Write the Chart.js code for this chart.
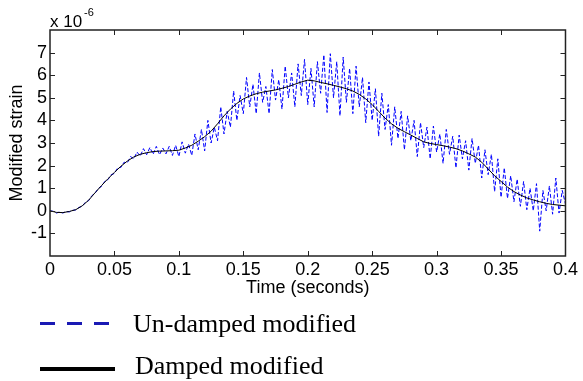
<!DOCTYPE html>
<html>
<head>
<meta charset="utf-8">
<script src="https://cdn.jsdelivr.net/npm/chart.js@4.4.1/dist/chart.umd.min.js"></script>
<style>
html, body { margin: 0; padding: 0; background: #fff; }
#wrap { position: relative; width: 583px; height: 381px; }
.lbl { position: absolute; font-family: "Liberation Sans", Arial, sans-serif; color: #000; line-height: 1; white-space: nowrap; }
.leg { position: absolute; font-family: "Liberation Serif", "Times New Roman", serif; font-size: 26px; line-height: 1; color: #000; white-space: nowrap; }
</style>
</head>
<body>
<div id="wrap">
    <canvas id="strainChart" width="583" height="381"></canvas>
    <span class="lbl" style="left:50px;top:13px;font-size:17px">x 10</span>
    <span class="lbl" style="left:84px;top:7px;font-size:11px">-6</span>
    <div style="position:absolute;left:40px;top:322px;width:69px;height:3px;background:repeating-linear-gradient(to right,#1a1ab4 0 15px,transparent 15px 27px)"></div>
    <span class="leg" style="left:133px;top:311px">Un-damped modified</span>
    <div style="position:absolute;left:40px;top:367px;width:75px;height:4px;background:#000"></div>
    <span class="leg" style="left:135px;top:353px">Damped modified</span>
</div>
<script>
// sampling of the two signals (seconds)
const dampedStep = 0.005;
const undampedStep = 0.0025;

// strain x 1e-6, damped modified (every 5 ms)
const dampedStrain = [
    0, -0.07, -0.08, -0.03, 0.05, 0.22, 0.47, 0.8, 1.12, 1.42,
    1.7, 1.97, 2.2, 2.38, 2.5, 2.57, 2.62, 2.64, 2.65, 2.66,
    2.68, 2.78, 2.9, 3.08, 3.28, 3.52, 3.85, 4.2, 4.5, 4.75,
    4.95, 5.08, 5.18, 5.25, 5.3, 5.35, 5.42, 5.5, 5.6, 5.7,
    5.78, 5.75, 5.68, 5.62, 5.55, 5.48, 5.4, 5.3, 5.15, 4.95,
    4.7, 4.4, 4.1, 3.85, 3.65, 3.5, 3.35, 3.2, 3.05, 2.98,
    2.93, 2.88, 2.82, 2.75, 2.65, 2.52, 2.38, 2.15, 1.85, 1.55,
    1.3, 1.05, 0.85, 0.7, 0.57, 0.48, 0.4, 0.33, 0.28, 0.25,
    0.22
];

// strain x 1e-6, un-damped modified (every 2.5 ms)
const undampedStrain = [
    0, -0.02, -0.1, -0.05, -0.1, -0.03, -0.05, 0.02, 0.04, 0.15,
    0.2, 0.38, 0.45, 0.67, 0.78, 0.99, 1.08, 1.3, 1.38, 1.6,
    1.65, 1.9, 1.92, 2.15, 2.12, 2.4, 2.3, 2.6, 2.42, 2.75,
    2.48, 2.8, 2.5, 2.85, 2.48, 2.78, 2.52, 2.85, 2.45, 2.9,
    2.4, 3.05, 2.55, 2.95, 2.45, 3.4, 2.7, 3.6, 2.65, 4.0,
    3.0, 3.7, 3.1, 4.6, 3.4, 4.4, 3.7, 5.3, 4.0, 5.1,
    4.3, 5.9, 4.6, 5.6, 4.3, 6.1, 4.8, 5.5, 4.3, 6.25,
    4.9, 5.8, 4.5, 6.4, 5.0, 6.1, 4.6, 6.5, 5.1, 6.7,
    4.7, 6.3, 4.6, 6.6, 5.2, 6.9, 4.35, 6.95, 5.0, 6.6,
    4.2, 6.8, 4.8, 6.3, 4.3, 6.4, 4.6, 5.9, 3.9, 5.7,
    4.0, 5.4, 3.3, 5.2, 3.6, 4.7, 2.9, 4.6, 3.2, 4.4,
    2.7, 4.2, 3.1, 4.0, 2.4, 3.9, 2.8, 3.7, 2.3, 3.75,
    2.6, 3.4, 2.1, 3.6, 2.5, 3.3, 1.9, 3.35, 2.3, 3.1,
    1.8, 3.2, 2.1, 2.9, 1.45, 2.7, 1.6, 2.5, 0.85, 2.3,
    0.6, 1.9, 0.55, 1.55, 0.4, 1.4, 0.2, 1.3, 0.05, 1.0,
    0.0, 1.2, -0.9, 0.9, 0.0, 1.1, -0.15, 1.45, -0.1, 0.9,
    0.3
];

const xTicks = [0, 0.05, 0.1, 0.15, 0.2, 0.25, 0.3, 0.35, 0.4];
const yTickLabels = [-1, 0, 1, 2, 3, 4, 5, 6, 7];

const toPoints = (vals, step) => vals.map((v, i) => ({ x: +(i * step).toFixed(4), y: v }));

// MATLAB style box with inward ticks on all four sides
const matlabBox = {
    id: 'matlabBox',
    afterDatasetsDraw(chart) {
        const { ctx, chartArea: a, scales: { x, y } } = chart;
        ctx.save();
        ctx.strokeStyle = '#222';
        ctx.lineWidth = 1;
        ctx.beginPath();
        xTicks.slice(1, -1).forEach(v => {
            const px = Math.round(x.getPixelForValue(v)) + 0.5;
            ctx.moveTo(px, a.bottom); ctx.lineTo(px, a.bottom - 5);
            ctx.moveTo(px, a.top); ctx.lineTo(px, a.top + 5);
        });
        yTickLabels.forEach(v => {
            const py = Math.round(y.getPixelForValue(v)) + 0.5;
            ctx.moveTo(a.left, py); ctx.lineTo(a.left + 5, py);
            ctx.moveTo(a.right, py); ctx.lineTo(a.right - 5, py);
        });
        ctx.stroke();
        ctx.lineWidth = 1.5;
        ctx.strokeRect(a.left, a.top, a.right - a.left, a.bottom - a.top);
        ctx.restore();
    }
};

const ctx = document.getElementById('strainChart').getContext('2d');
new Chart(ctx, {
    type: 'line',
    data: {
        datasets: [
            {
                label: 'Damped modified',
                data: toPoints(dampedStrain, dampedStep),
                borderColor: '#000',
                borderWidth: 1,
                pointRadius: 0,
                order: 0
            },
            {
                label: 'Un-damped modified',
                data: toPoints(undampedStrain, undampedStep),
                borderColor: '#0000ff',
                borderWidth: 1,
                borderDash: [4, 2],
                pointRadius: 0,
                order: 1
            }
        ]
    },
    options: {
        responsive: false,
        animation: false,
        layout: { padding: { top: 30, right: 13, bottom: 80, left: 0 } },
        plugins: { legend: { display: false }, tooltip: { enabled: false } },
        scales: {
            x: {
                type: 'linear',
                min: 0,
                max: 0.4,
                afterFit: s => { s.height = 45; },
                afterBuildTicks: s => { s.ticks = xTicks.map(v => ({ value: v })); },
                grid: { display: false, drawTicks: false },
                border: { display: false },
                ticks: {
                    padding: 5,
                    color: '#000',
                    maxRotation: 0,
                    autoSkip: false,
                    font: { family: '"Liberation Sans", Arial, sans-serif', size: 18, lineHeight: 1 },
                    callback: v => String(+v.toFixed(2))
                },
                title: {
                    display: true,
                    text: 'Time (seconds)',
                    color: '#000',
                    padding: { top: 0, bottom: 4 },
                    font: { family: '"Liberation Sans", Arial, sans-serif', size: 18, lineHeight: 1 }
                }
            },
            y: {
                min: -2,
                max: 8,
                afterFit: s => { s.width = 50; },
                afterBuildTicks: s => { s.ticks = yTickLabels.map(v => ({ value: v })); },
                grid: { display: false, drawTicks: false },
                border: { display: false },
                ticks: {
                    padding: 3,
                    color: '#000',
                    font: { family: '"Liberation Sans", Arial, sans-serif', size: 18, lineHeight: 1 }
                },
                title: {
                    display: true,
                    text: 'Modified strain',
                    color: '#000',
                    padding: { top: 8, bottom: 0 },
                    font: { family: '"Liberation Sans", Arial, sans-serif', size: 18, lineHeight: 1 }
                }
            }
        }
    },
    plugins: [matlabBox]
});
</script>
</body>
</html>
